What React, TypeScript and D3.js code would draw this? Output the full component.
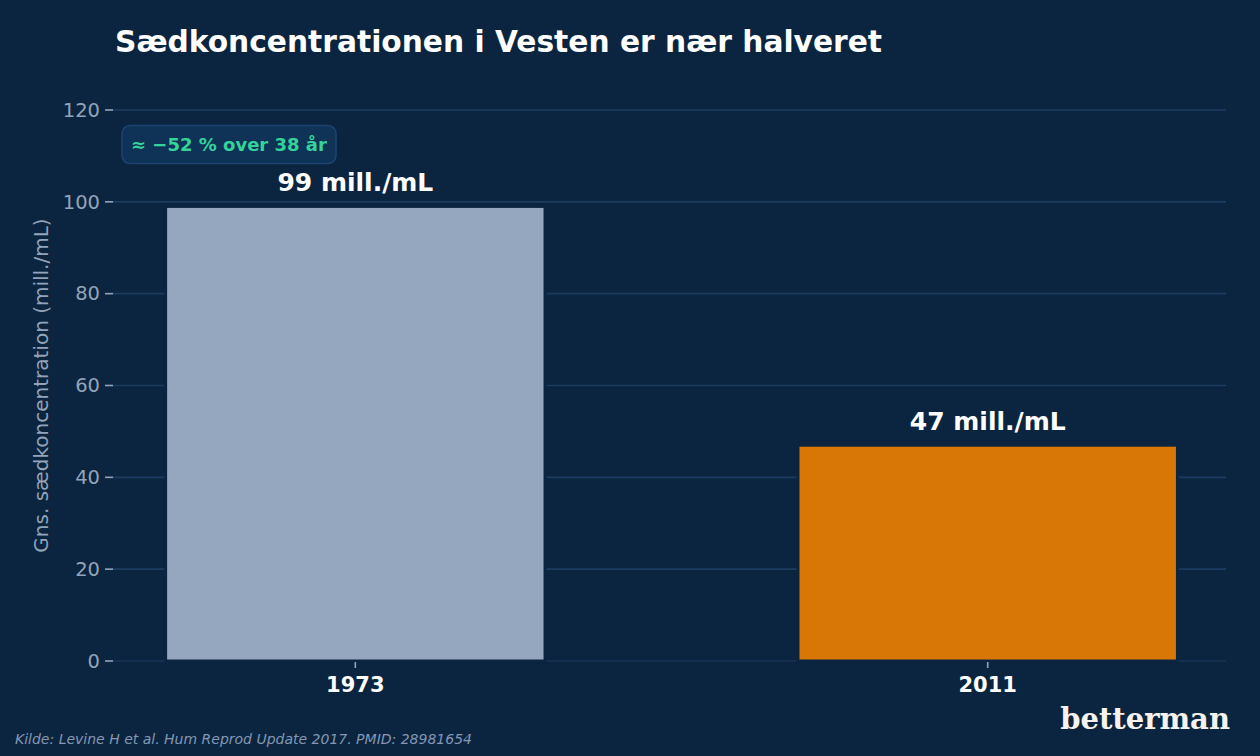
import React from "react";
import * as d3 from "d3";

const categories = ["1973", "2011"];
const values = [99, 47];
const valueLabels = ["99 mill./mL", "47 mill./mL"];
const barColors = ["#95a6bf", "#d97706"];
const yTicks = [0, 20, 40, 60, 80, 100, 120];
const title = "Sædkoncentrationen i Vesten er nær halveret";
const yLabel = "Gns. sædkoncentration (mill./mL)";
const annotation = "≈ −52 % over 38 år";
const source = "Kilde: Levine H et al. Hum Reprod Update 2017. PMID: 28981654";
const logo = "betterman";

const W = 1260;
const H = 756;
const BG = "#0b2540";
const GRID = "#1d3c62";
const TICK = "#94a3b8";
const FONT = "'DejaVu Sans', sans-serif";

export default function App() {
  const left = 113;
  const right = 1226;
  const top = 110;
  const bottom = 661;

  const y = d3.scaleLinear().domain([0, 120]).range([bottom, top]);
  const x = d3
    .scaleBand<string>()
    .domain(categories)
    .range([left, right])
    .paddingInner(0.4)
    .paddingOuter(0.08)
    .align(0.52);

  return (
    <svg
      width={W}
      height={H}
      style={{ position: "absolute", left: 0, top: 0, background: BG }}
      fontFamily={FONT}
    >
      <rect x={0} y={0} width={W} height={H} fill={BG} />
      {yTicks.map((t) => (
        <g key={t}>
          <line
            x1={left}
            x2={right}
            y1={y(t)}
            y2={y(t)}
            stroke={GRID}
            strokeWidth={t === 0 ? 1 : 1.6}
          />
          <line x1={left - 8} x2={left} y1={y(t)} y2={y(t)} stroke={TICK} strokeWidth={1.6} />
          <text
            x={left - 13}
            y={y(t)}
            dy="0.35em"
            textAnchor="end"
            fill={TICK}
            fontSize={19.5}
          >
            {t}
          </text>
        </g>
      ))}
      {categories.map((c, i) => (
        <g key={c}>
          <rect
            x={x(c)!}
            y={y(values[i])}
            width={x.bandwidth()}
            height={bottom - y(values[i])}
            fill={barColors[i]}
            stroke={BG}
            strokeWidth={3}
          />
          <text
            x={x(c)! + x.bandwidth() / 2}
            y={y(values[i]) - 15}
            textAnchor="middle"
            fill="#ffffff"
            fontWeight="bold"
            fontSize={25}
          >
            {valueLabels[i]}
          </text>
          <line
            x1={x(c)! + x.bandwidth() / 2}
            x2={x(c)! + x.bandwidth() / 2}
            y1={bottom + 1}
            y2={bottom + 7}
            stroke={TICK}
            strokeWidth={1.6}
          />
          <text
            x={x(c)! + x.bandwidth() / 2}
            y={692}
            textAnchor="middle"
            fill="#ffffff"
            fontWeight="bold"
            fontSize={21}
          >
            {c}
          </text>
        </g>
      ))}
      <text
        transform={`translate(48, ${(top + bottom) / 2 - 0}) rotate(-90)`}
        textAnchor="middle"
        fill={TICK}
        fontSize={20}
      >
        {yLabel}
      </text>
      <text x={115} y={52} fill="#ffffff" fontWeight="bold" fontSize={29.7}>
        {title}
      </text>
      <rect
        x={122}
        y={125.5}
        width={214}
        height={38}
        rx={8}
        fill="#0f3257"
        stroke="#1d4470"
        strokeWidth={1.5}
      />
      <text x={131} y={151} fill="#34d399" fontWeight="bold" fontSize={18}>
        {annotation}
      </text>
      <text x={15} y={744} fill="#8497b3" fontStyle="italic" fontSize={14}>
        {source}
      </text>
      <text
        x={1230}
        y={729}
        textAnchor="end"
        fill="#f7f3ec"
        fontWeight="bold"
        fontSize={29}
        fontFamily="'DejaVu Serif', serif"
      >
        {logo}
      </text>
    </svg>
  );
}
